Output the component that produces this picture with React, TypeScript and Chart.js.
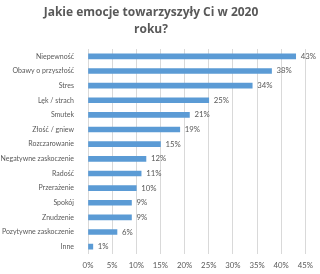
import React, { useEffect, useRef } from "react";
import { Chart, registerables } from "chart.js";

Chart.register(...registerables);

const titleLines = ["Jakie emocje towarzyszyły Ci w 2020", "roku?"];
const categories = [
  "Niepewność",
  "Obawy o przyszłość",
  "Stres",
  "Lęk / strach",
  "Smutek",
  "Złość / gniew",
  "Rozczarowanie",
  "Negatywne zaskoczenie",
  "Radość",
  "Przerażenie",
  "Spokój",
  "Znudzenie",
  "Pozytywne zaskoczenie",
  "Inne",
];
const values = [43, 38, 34, 25, 21, 19, 15, 12, 11, 10, 9, 9, 6, 1];
const xTicks = [0, 5, 10, 15, 20, 25, 30, 35, 40, 45];

const TITLE_FONT = "'Open Sans', 'DejaVu Sans', sans-serif";
const FONT = "Lato, 'DejaVu Sans', sans-serif";
const GRAY = "#595959";

const titlePlugin = {
  id: "customTitle",
  afterDraw(chart: any) {
    const ctx = chart.ctx;
    ctx.save();
    ctx.fillStyle = GRAY;
    ctx.font = `bold 12px ${TITLE_FONT}`;
    ctx.textAlign = "center";
    ctx.textBaseline = "middle";
    const cx = 151;
    titleLines.forEach((t, i) => ctx.fillText(t, cx, 13 + i * 17));
    ctx.restore();
  },
};

const valueLabels = {
  id: "valueLabels",
  afterDatasetsDraw(chart: any) {
    const ctx = chart.ctx;
    const meta = chart.getDatasetMeta(0);
    ctx.save();
    ctx.fillStyle = GRAY;
    ctx.font = `7.8px ${FONT}`;
    ctx.textAlign = "left";
    ctx.textBaseline = "middle";
    meta.data.forEach((bar: any, i: number) => {
      ctx.fillText(values[i] + "%", bar.x + 5, bar.y);
    });
    ctx.restore();
  },
};

export default function App() {
  const ref = useRef<HTMLCanvasElement>(null);
  useEffect(() => {
    document.body.style.margin = "0";
    const chart = new Chart(ref.current!, {
      type: "bar",
      data: {
        labels: categories,
        datasets: [
          {
            data: values,
            backgroundColor: "#5B9BD5",
            barThickness: 5,
          },
        ],
      },
      options: {
        indexAxis: "y",
        animation: false,
        responsive: false,
        layout: { padding: { top: 49, right: 6, left: 1, bottom: 0 } },
        plugins: {
          legend: { display: false },
          tooltip: { enabled: false },
          title: { display: false },
        },
        scales: {
          x: {
            min: xTicks[0],
            max: xTicks[xTicks.length - 1],
            afterBuildTicks: (axis: any) => {
              axis.ticks = xTicks.map((v) => ({ value: v }));
            },
            afterFit: (axis: any) => {
              axis.height = 20;
            },
            ticks: {
              callback: (v: any) => v + "%",
              color: GRAY,
              font: { family: FONT, size: 7.8 },
              maxRotation: 0,
              padding: 7,
            },
            grid: { color: "#d9d9d9", drawTicks: false },
            border: { display: false },
          },
          y: {
            afterFit: (axis: any) => {
              axis.width = 87;
            },
            ticks: {
              color: GRAY,
              font: { family: FONT, size: 7 },
              padding: 6,
              autoSkip: false,
            },
            grid: { display: false },
            border: { display: false },
          },
        },
      },
      plugins: [titlePlugin, valueLabels],
    });
    return () => chart.destroy();
  }, []);
  return <canvas ref={ref} width={320} height={274} style={{ display: "block" }} />;
}
